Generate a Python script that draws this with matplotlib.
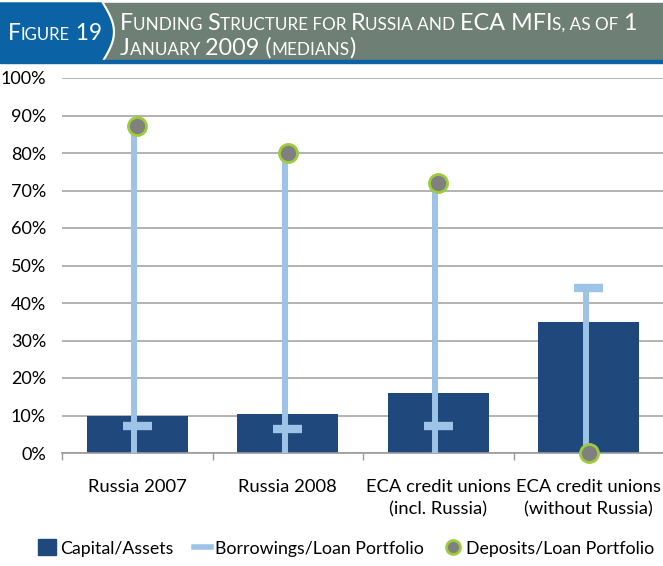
import matplotlib
matplotlib.use('Agg')
import matplotlib.pyplot as plt
from matplotlib.patches import Rectangle, Polygon, Patch
from matplotlib.lines import Line2D
import numpy as np

plt.rcParams['font.family'] = ['Lato', 'DejaVu Sans']

# data (fractions)
categories = ['Russia 2007', 'Russia 2008', 'ECA credit unions\n(incl. Russia)',
              'ECA credit unions\n(without Russia)']
capital_assets = [0.099, 0.104, 0.160, 0.350]
borrowings = [0.072, 0.064, 0.073, 0.441]
deposits = [0.872, 0.801, 0.720, 0.0]
y_ticks = [0, 0.1, 0.2, 0.3, 0.4, 0.5, 0.6, 0.7, 0.8, 0.9, 1.0]
y_labels = ['0%', '10%', '20%', '30%', '40%', '50%', '60%', '70%', '80%', '90%', '100%']

navy = '#1f497d'
light = '#9dc3e6'
hdr_blue = '#0b63a6'
hdr_gray = '#6e7f75'

W, H = 663, 566
fig = plt.figure(figsize=(W / 100, H / 100), dpi=100, facecolor='white')

# ---- header ----
hdr = fig.add_axes([0, 0, 1, 1])
hdr.set_xlim(0, W)
hdr.set_ylim(H, 0)
hdr.axis('off')
hdr.add_patch(Rectangle((0, 3), W, 58, color=hdr_gray, zorder=0))
t = np.linspace(0, 1, 40)
arc_x = 101 + 11 * np.sin(np.pi * t)
arc_y = 3 + 58 * t
hdr.add_patch(Polygon(np.column_stack([np.r_[0, arc_x, 0], np.r_[3, arc_y, 61]]),
                      closed=True, color=hdr_blue, zorder=1))
hdr.plot(arc_x + 2, arc_y, color='white', lw=1.5, zorder=2)
hdr.add_patch(Rectangle((0, 60), W, 3, color=hdr_blue, zorder=2))

renderer = fig.canvas.get_renderer()


def small_caps(x, y, pieces, big, small):
    # pieces: list of (text, is_big)
    for txt, is_big in pieces:
        tt = hdr.text(x, y, txt, color='white', fontsize=big if is_big else small,
                      va='baseline', ha='left', zorder=3)
        bb = tt.get_window_extent(renderer=renderer)
        x += bb.width


small_caps(8, 40, [('F', True), ('IGURE', False), (' 19', True)], 16.3, 12)
small_caps(120, 30, [('F', True), ('UNDING ', False), ('S', True), ('TRUCTURE FOR ', False),
                     ('R', True), ('USSIA AND ', False), ('ECA MFI', True), ('S, AS OF ', False),
                     ('1', True)], 16.8, 12.3)
small_caps(120, 55, [('J', True), ('ANUARY ', False), ('2009 (', True), ('MEDIANS', False),
                     (')', True)], 16.8, 12.3)

# ---- chart ----
ax = fig.add_axes([62 / W, (H - 453) / H, 602 / W, 375 / H])
x = np.arange(len(categories))
ax.bar(x, capital_assets, width=0.67, color=navy, zorder=2)

tops = [max(d, b) for d, b in zip(deposits, borrowings)]
ax.vlines(x - 0.02, 0, tops, color=light, lw=4.3, zorder=3)
ax.hlines(borrowings, x - 0.095, x + 0.095, color=light, lw=6, zorder=3)
ax.plot(x, deposits, 'o', ms=13, mfc='#808080', mec='#9ccc3c', mew=2,
        zorder=4, clip_on=False, ls='none')

ax.set_xlim(-0.5, len(categories) - 0.5)
ax.set_ylim(0, 1)
ax.set_yticks(y_ticks)
ax.set_yticklabels(y_labels, fontsize=13)
ax.tick_params(axis='y', length=0, pad=11.5)
ax.set_xticks(x)
ax.set_xticklabels(categories, fontsize=13.2, linespacing=1.45)
ax.tick_params(axis='x', length=0, pad=19)
ax.set_xticks(np.arange(len(categories) + 1) - 0.5, minor=True)
ax.tick_params(axis='x', which='minor', length=5, color='#9a9a9a', width=1)
ax.grid(axis='y', color='#a6a6a6', lw=1.2, zorder=0)
ax.set_axisbelow(True)
for s in ['top', 'right', 'left']:
    ax.spines[s].set_visible(False)
ax.spines['bottom'].set_color('#9a9a9a')
ax.spines['bottom'].set_linewidth(1.2)

handles = [Patch(color=navy, label='Capital/Assets'),
           Line2D([], [], color=light, lw=4, label='Borrowings/Loan Portfolio'),
           Line2D([], [], marker='o', ls='none', ms=10, mfc='#808080', mec='#9ccc3c',
                  mew=2, label='Deposits/Loan Portfolio')]
fig.legend(handles=handles, loc='center', bbox_to_anchor=(0.522, 1 - 548 / H), ncol=3,
           frameon=False, fontsize=12.8, handlelength=1.0, handletextpad=0.2,
           columnspacing=1.15, handleheight=1.0)

fig.savefig('out.png', dpi=100, facecolor='white')
